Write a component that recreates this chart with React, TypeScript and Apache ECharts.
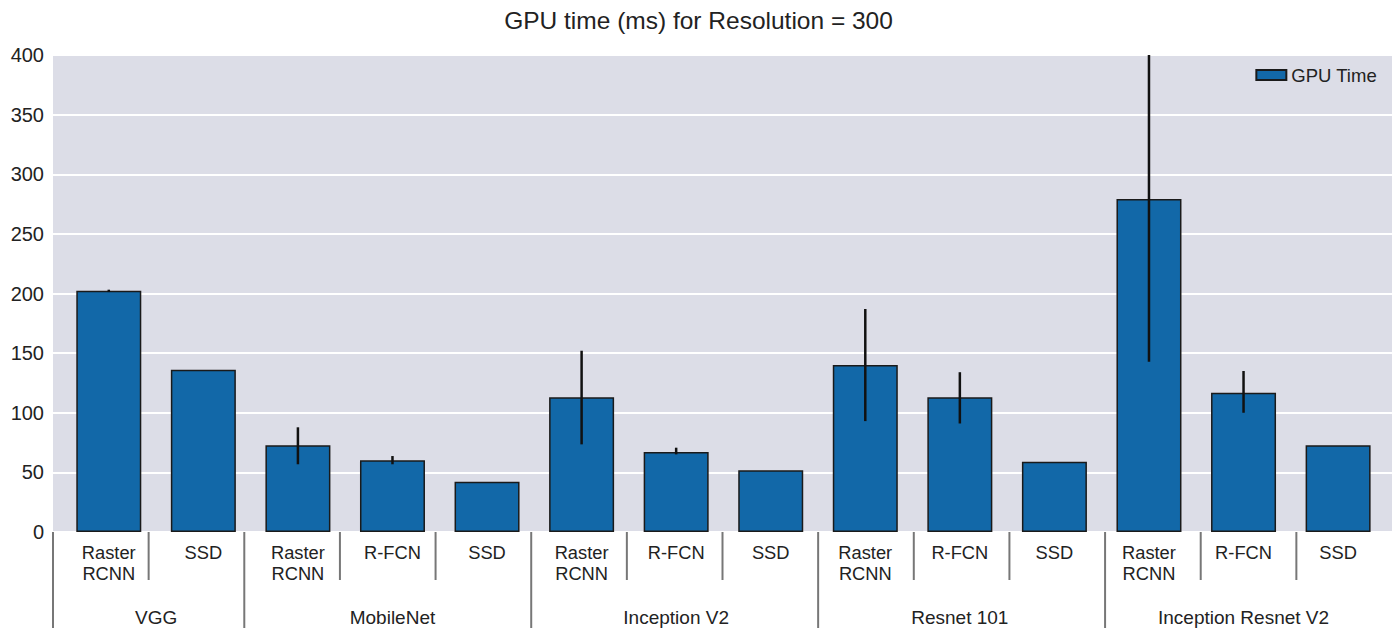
import React, { useEffect, useRef } from "react";
import * as echarts from "echarts";

const titleText = "GPU time (ms) for Resolution = 300";
const seriesName = "GPU Time";
const groupNames = ["VGG", "MobileNet", "Inception V2", "Resnet 101", "Inception Resnet V2"];
const groupSizes = [2, 3, 3, 3, 3];
const subLabels = [
  "Raster\nRCNN", "SSD",
  "Raster\nRCNN", "R-FCN", "SSD",
  "Raster\nRCNN", "R-FCN", "SSD",
  "Raster\nRCNN", "R-FCN", "SSD",
  "Raster\nRCNN", "R-FCN", "SSD",
];
const gpuTime = [202.3, 136, 72.7, 60.1, 42.2, 113, 67.1, 51.7, 140, 113, 59, 279.2, 116.8, 72.7];
const errLow = [201.2, 136, 56.8, 56.8, 42.2, 73.5, 65.1, 51.7, 93, 91, 59, 142.8, 100, 72.7];
const errHigh = [203.2, 136, 87.8, 63.7, 42.2, 152, 70.7, 51.7, 187, 134, 59, 400, 135, 72.7];
const yTicks = [0, 50, 100, 150, 200, 250, 300, 350, 400];

const FONT = "Liberation Sans, Arial, Helvetica, sans-serif";

export default function App() {
  const ref = useRef<HTMLDivElement>(null);
  useEffect(() => {
    document.body.style.margin = "0";
    if (!ref.current) return;
    const chart = echarts.init(ref.current, null, { renderer: "svg" });

    const groupStarts: number[] = [];
    let acc = 0;
    groupSizes.forEach((s) => {
      groupStarts.push(acc);
      acc += s;
    });
    const groupCenters = groupStarts.map((st, g) => st + (groupSizes[g] - 1) / 2);

    const sepData = subLabels.map((_, k) => [k, 0, groupStarts.indexOf(k) >= 0 ? 1 : 0]);

    const option: any = {
      animation: false,
      backgroundColor: "#ffffff",
      textStyle: { fontFamily: FONT },
      title: {
        text: titleText,
        left: "center",
        top: 3,
        textStyle: { fontSize: 24.5, fontWeight: "normal", color: "#222", fontFamily: FONT },
      },
      legend: {
        data: [seriesName],
        right: 15,
        top: 60,
        itemWidth: 30,
        itemHeight: 10,
        itemGap: 6,
        icon: "rect",
        textStyle: { fontSize: 18.5, color: "#222", fontFamily: FONT, lineHeight: 20 },
      },
      grid: {
        left: 53,
        right: 5,
        top: 55,
        bottom: 96,
        show: true,
        backgroundColor: "#dcdde7",
        borderWidth: 0,
      },
      xAxis: [
        {
          type: "value",
          min: -0.59,
          max: 13.57,
          show: false,
          splitLine: { show: false },
        },
        {
          type: "category",
          data: subLabels,
          boundaryGap: true,
          show: false,
        },
      ],
      yAxis: {
        type: "value",
        min: yTicks[0],
        max: yTicks[yTicks.length - 1],
        interval: 50,
        axisLine: { show: false },
        axisTick: { show: false },
        axisLabel: { fontSize: 20, color: "#222", margin: 9, fontFamily: FONT },
        splitLine: { show: true, lineStyle: { color: "#ffffff", width: 2 } },
      },
      series: [
        {
          name: seriesName,
          type: "bar",
          xAxisIndex: 0,
          barWidth: 65,
          data: gpuTime.map((v, i) => [i, v]),
          itemStyle: { color: "#1268a8", borderColor: "#1a1a1a", borderWidth: 1.5 },
          z: 2,
        },
        {
          type: "custom",
          name: "err",
          xAxisIndex: 0,
          z: 3,
          clip: false,
          data: gpuTime.map((_, i) => [i, errLow[i], errHigh[i]]),
          encode: { x: 0, y: [1, 2] },
          renderItem: (params: any, api: any) => {
            const i = api.value(0);
            const lo = api.value(1);
            const hi = api.value(2);
            if (hi - lo < 0.01) return null;
            const p1 = api.coord([i, lo]);
            const p2 = api.coord([i, hi]);
            return {
              type: "line",
              shape: { x1: p1[0], y1: p1[1], x2: p2[0], y2: p2[1] },
              style: { stroke: "#111", lineWidth: 2.5 },
            };
          },
        },
        {
          type: "custom",
          name: "seps",
          xAxisIndex: 1,
          z: 3,
          clip: false,
          silent: true,
          data: sepData,
          encode: { x: 0, y: 1 },
          renderItem: (params: any, api: any) => {
            const k = api.value(0);
            const isGroup = api.value(2) === 1;
            const c = api.coord([k, 0]);
            const w = api.size([1, 0])[0];
            const x = c[0] - w / 2;
            const y0 = c[1];
            return {
              type: "line",
              shape: { x1: x, y1: y0, x2: x, y2: y0 + (isGroup ? 96 : 48) },
              style: { stroke: "#777", lineWidth: 2 },
            };
          },
        },
        {
          type: "custom",
          name: "subLabels",
          xAxisIndex: 0,
          z: 3,
          clip: false,
          silent: true,
          data: subLabels.map((_, i) => [i, 0]),
          encode: { x: 0, y: 1 },
          renderItem: (params: any, api: any) => {
            const i = api.value(0);
            const c = api.coord([i, 0]);
            return {
              type: "text",
              style: {
                text: subLabels[i],
                x: c[0],
                y: c[1] + 10,
                align: "center",
                verticalAlign: "top",
                fontSize: 18.3,
                lineHeight: 21,
                fontFamily: FONT,
                fill: "#222",
              },
            };
          },
        },
        {
          type: "custom",
          name: "groupLabels",
          xAxisIndex: 0,
          z: 3,
          clip: false,
          silent: true,
          data: groupCenters.map((gc, g) => [gc, 0, g]),
          encode: { x: 0, y: 1 },
          renderItem: (params: any, api: any) => {
            const gc = api.value(0);
            const g = api.value(2);
            const c = api.coord([gc, 0]);
            return {
              type: "text",
              style: {
                text: groupNames[g],
                x: c[0],
                y: c[1] + 85,
                align: "center",
                verticalAlign: "middle",
                fontSize: 19,
                fontFamily: FONT,
                fill: "#222",
              },
            };
          },
        },
      ],
    };
    chart.setOption(option);
    return () => {
      chart.dispose();
    };
  }, []);
  return <div ref={ref} style={{ width: 1397, height: 628 }} />;
}
